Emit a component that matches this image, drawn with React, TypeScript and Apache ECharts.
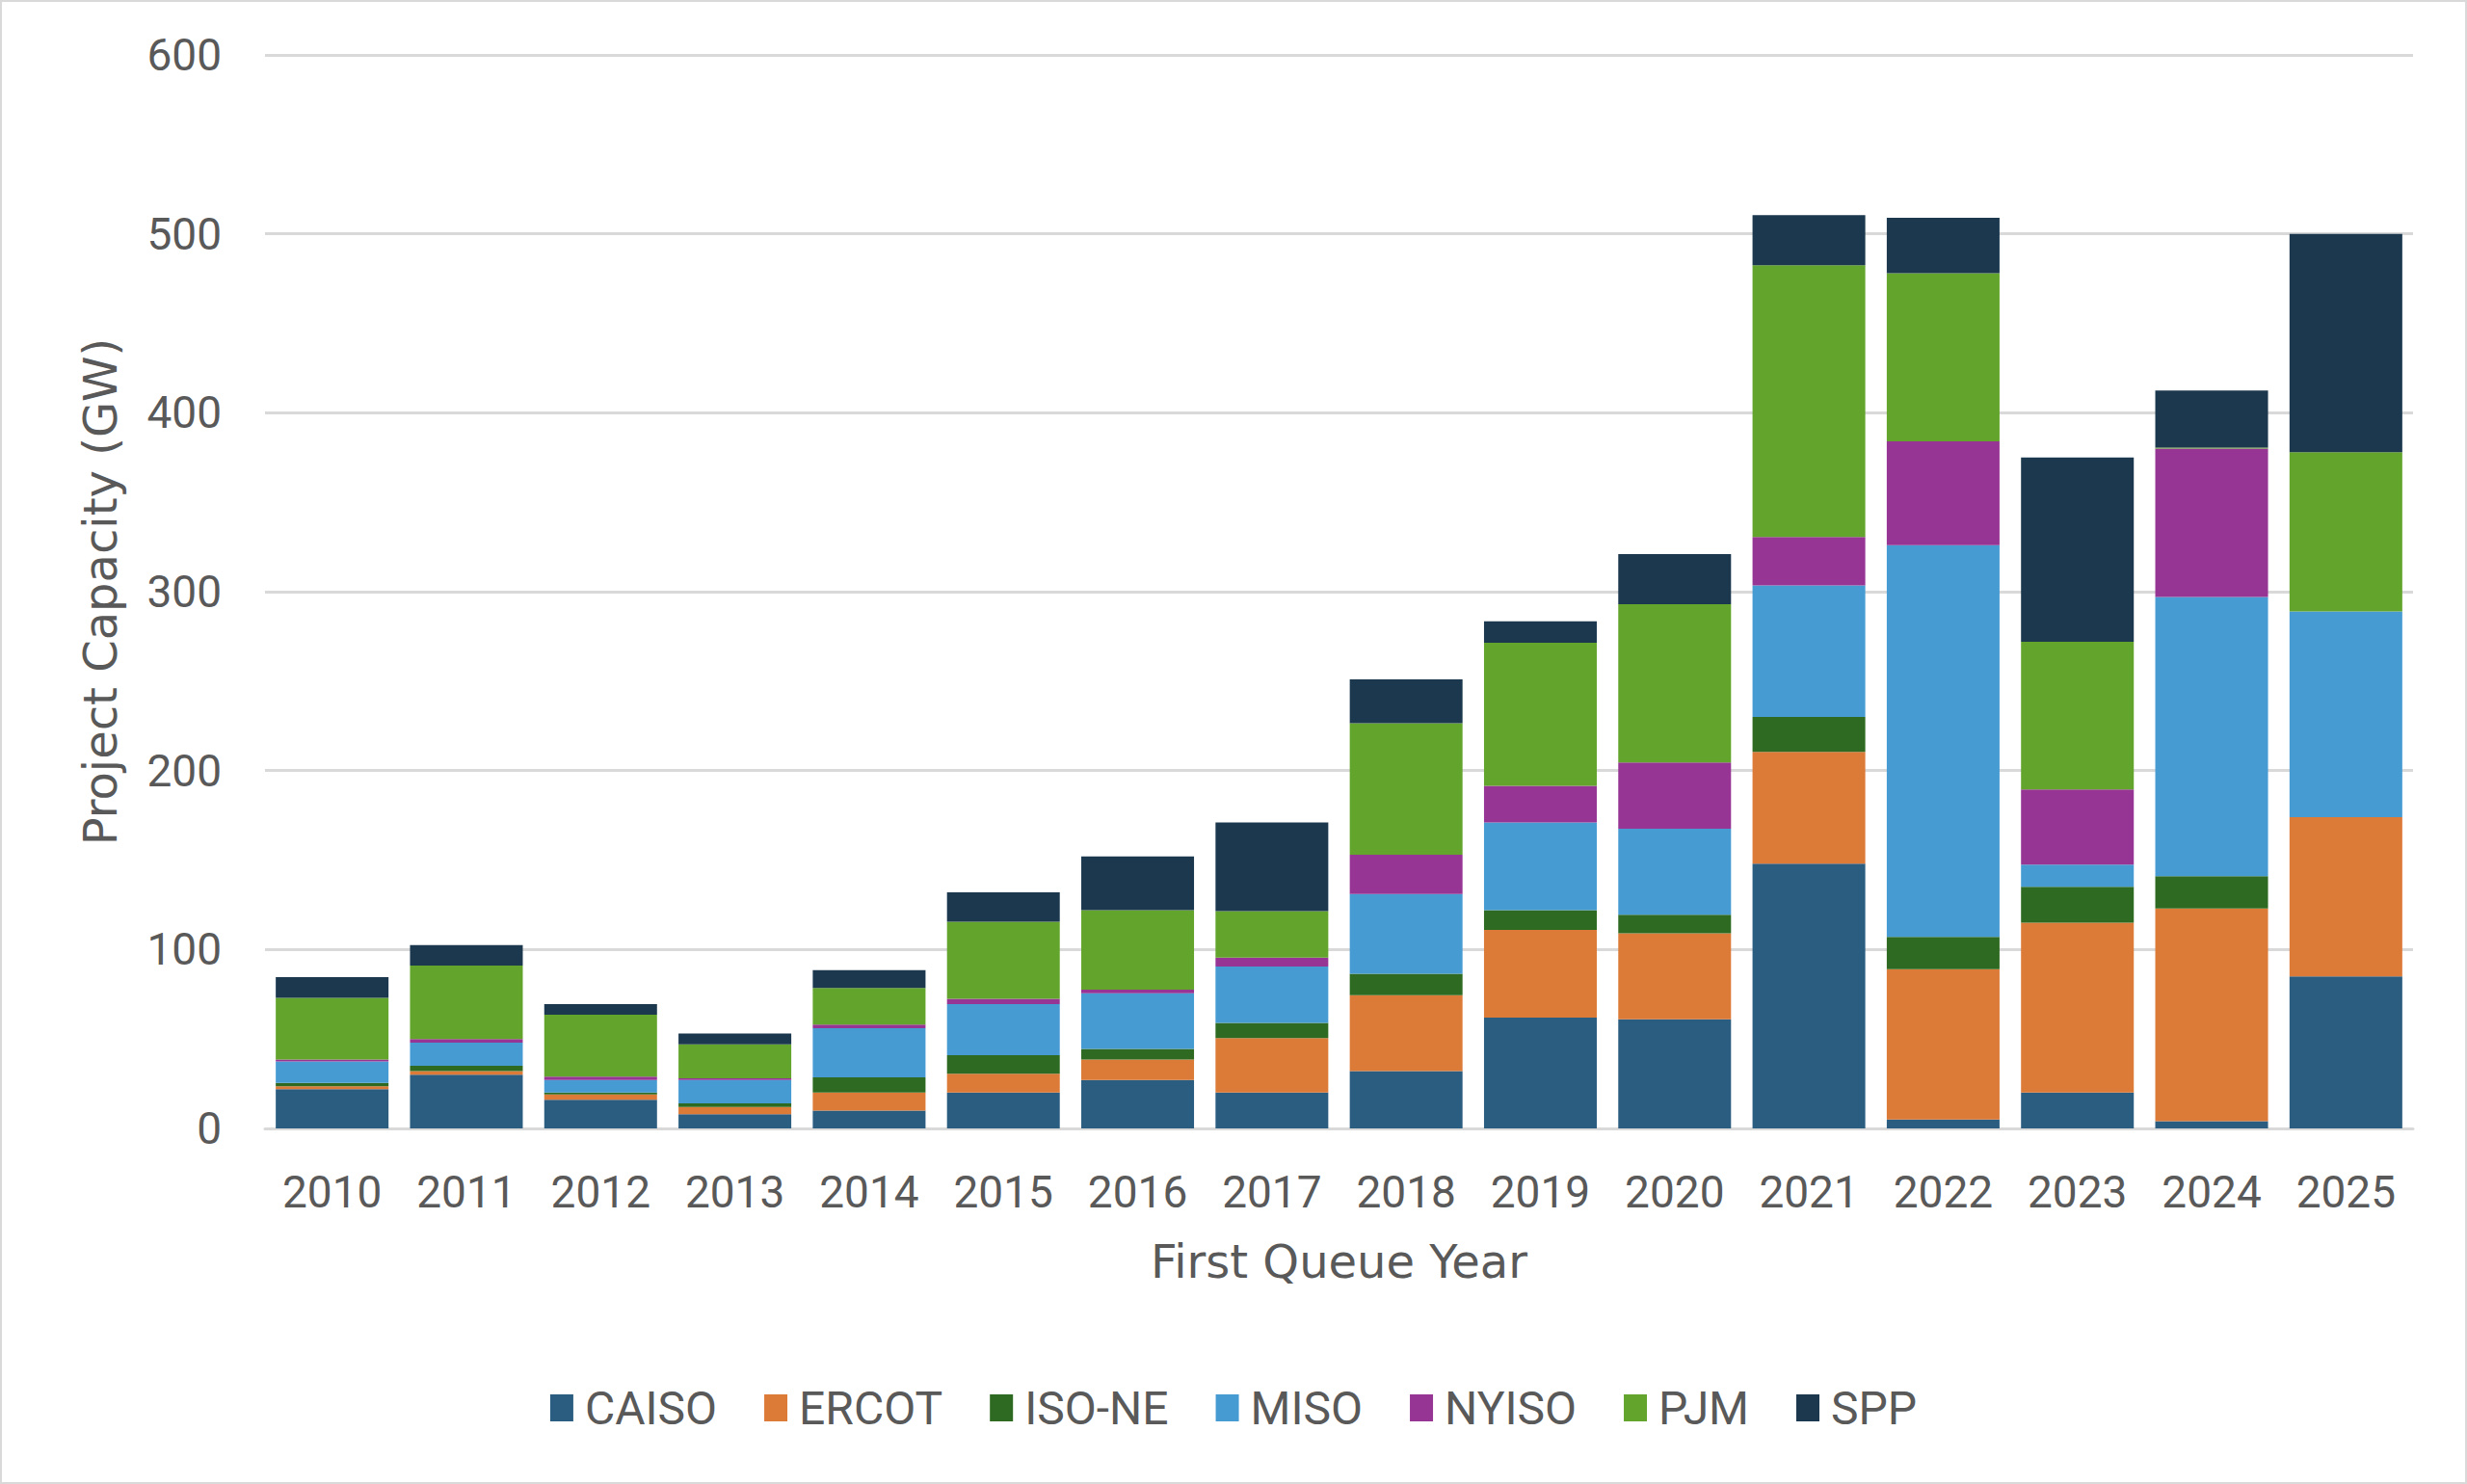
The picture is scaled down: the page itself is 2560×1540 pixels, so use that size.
import React, { useEffect, useRef } from "react";
import * as echarts from "echarts";

const years = ["2010", "2011", "2012", "2013", "2014", "2015", "2016", "2017", "2018", "2019", "2020", "2021", "2022", "2023", "2024", "2025"];
const caiso = [22, 30, 16, 8, 10, 20, 27, 20, 32, 62, 61, 148, 5, 20, 4, 85];
const ercot = [1.5, 2, 3, 4, 10, 10.5, 11.5, 30.5, 42.5, 49, 48, 62.5, 84, 95, 119, 89];
const isone = [2, 3, 1, 2, 8.5, 10.5, 6, 8.5, 12, 11, 10.5, 19.5, 18, 20, 18, 0];
const miso = [12, 13, 7, 13, 27.5, 28.5, 31, 31.5, 44.5, 49, 48, 73.5, 219, 12.5, 156, 115];
const nyiso = [1, 2, 2, 1, 2, 3, 2, 5, 22, 20.5, 37, 27, 58, 42, 83, 0];
const pjm = [34.5, 41, 34.5, 19, 20.5, 43, 44.5, 26, 73.5, 80, 88.5, 152, 94, 82.5, 0.5, 89];
const spp = [11.5, 11.5, 6, 6, 10, 16.5, 30, 49.5, 24.5, 12, 28, 28, 31, 103, 32, 122];

const seriesNames = ["CAISO", "ERCOT", "ISO-NE", "MISO", "NYISO", "PJM", "SPP"];
const seriesData = [caiso, ercot, isone, miso, nyiso, pjm, spp];
const seriesColors = ["#2b5d80", "#dc7a38", "#2e6a21", "#469bd3", "#963594", "#63a42c", "#1b384e"];

const yTicks = { min: 0, max: 600, interval: 100 };

const FONT = "Roboto";
const WIDE = "DejaVu Sans";
const TXT = "#595959";

export default function App() {
  const ref = useRef<HTMLDivElement>(null);
  useEffect(() => {
    if (!ref.current) return;
    const chart = echarts.init(ref.current, null, { renderer: "svg" });
    chart.setOption({
      animation: false,
      backgroundColor: "#ffffff",
      textStyle: { fontFamily: FONT },
      grid: { left: 275, right: 56, top: 57, bottom: 369, containLabel: false },
      legend: {
        data: seriesNames,
        top: 1432,
        left: "center",
        itemWidth: 24,
        itemHeight: 28,
        itemGap: 49,
        icon: "rect",
        textStyle: { color: TXT, fontSize: 48, fontFamily: FONT, padding: [0, 0, 0, 7] },
      },
      xAxis: {
        type: "category",
        data: years,
        name: "First Queue Year",
        nameLocation: "middle",
        nameGap: 114,
        nameTextStyle: { color: TXT, fontSize: 48, fontFamily: WIDE },
        axisLine: { show: true, lineStyle: { color: "#d9d9d9", width: 3 } },
        axisTick: { show: false },
        axisLabel: { color: TXT, fontSize: 46, fontFamily: FONT, margin: 43 },
      },
      yAxis: {
        type: "value",
        min: yTicks.min,
        max: yTicks.max,
        interval: yTicks.interval,
        name: "Project Capacity (GW)",
        nameLocation: "middle",
        nameGap: 147,
        nameTextStyle: { color: TXT, fontSize: 48, fontFamily: WIDE },
        axisLine: { show: false },
        axisTick: { show: false },
        axisLabel: { color: TXT, fontSize: 46, fontFamily: FONT, margin: 45 },
        splitLine: { lineStyle: { color: "#d9d9d9", width: 3 } },
      },
      graphic: [
        {
          type: "rect",
          shape: { x: 1, y: 1, width: 2558, height: 1538 },
          style: { fill: "none", stroke: "#d9d9d9", lineWidth: 2 },
          silent: true,
        },
      ],
      series: seriesNames.map((name, i) => ({
        name,
        type: "bar",
        stack: "total",
        data: seriesData[i],
        barCategoryGap: "16%",
        itemStyle: { color: seriesColors[i] },
      })),
    });
    return () => chart.dispose();
  }, []);
  return (
    <div
      ref={ref}
      style={{ position: "absolute", left: 0, top: 0, width: 2560, height: 1540 }}
    />
  );
}
